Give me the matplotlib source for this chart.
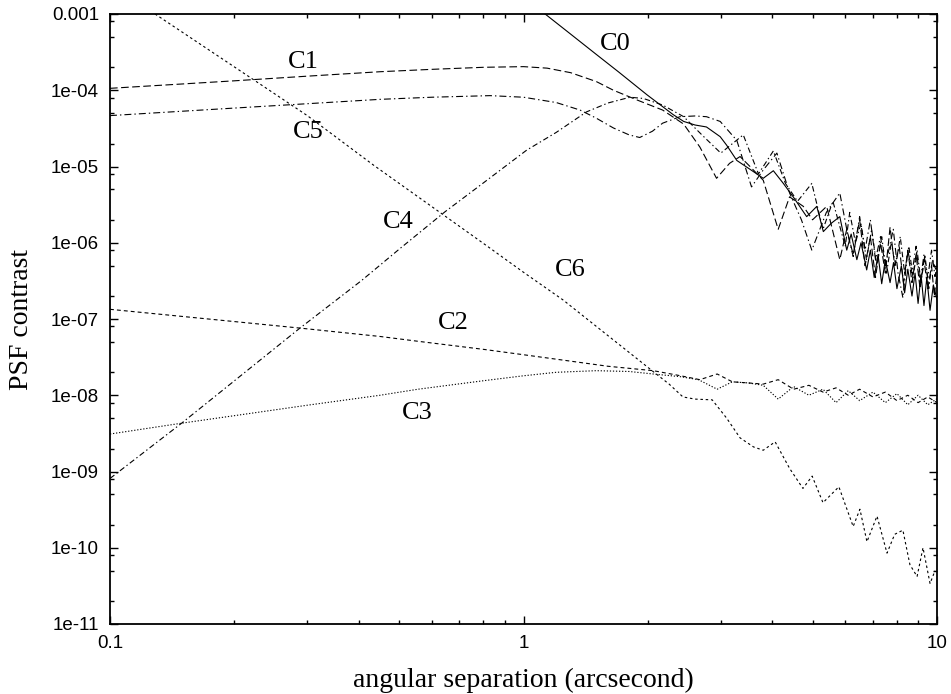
import matplotlib
matplotlib.use("Agg")
import matplotlib.pyplot as plt
from matplotlib.ticker import LogLocator, FixedLocator, FixedFormatter, NullFormatter

# data (log-log PSF contrast curves)
c0_x = [1.128, 1.3, 1.5, 1.7, 1.99, 2.17, 2.3, 2.44, 2.6, 2.77, 2.99, 3.1, 3.28, 3.55, 3.80,
        4.02, 4.25, 4.49, 4.84, 5.12, 5.31, 5.55, 5.82, 6.05, 6.2, 6.4, 6.55, 6.76, 6.9,
        7.05, 7.2, 7.35, 7.5, 7.7, 7.85, 8.0, 8.2, 8.35, 8.5, 8.7, 8.85, 9.0, 9.15, 9.3,
        9.45, 9.62, 9.8, 10.0]
c0_y = [1e-3, 5.45e-4, 2.95e-4, 1.73e-4, 8.7e-5, 6.1e-5, 4.8e-5, 3.9e-5, 3.5e-5, 3.3e-5,
        2.46e-5, 1.9e-5, 1.2e-5, 9e-6, 7.0e-6, 8.8e-6, 6e-6, 4.0e-6, 2.2e-6, 3.0e-6, 1.4e-6,
        1.8e-6, 2.2e-6, 8e-7, 1.3e-6, 6e-7, 1.0e-6, 4.4e-7, 8e-7, 3.5e-7, 7e-7, 2.9e-7,
        6e-7, 3e-7, 5.5e-7, 2.5e-7, 5e-7, 2.2e-7, 4.5e-7, 2e-7, 4e-7, 1.6e-7, 3.8e-7, 1.5e-7,
        3.5e-7, 1.3e-7, 2.8e-7, 1.8e-7]

c1_x = [0.1, 0.15, 0.2, 0.3, 0.45, 0.6, 0.8, 1.0, 1.14, 1.3, 1.5, 1.65, 1.9, 2.17, 2.44,
        2.67, 2.93, 3.15, 3.34, 3.53, 3.80, 4.13, 4.40, 4.75, 5.0, 5.41, 5.82, 6.05, 6.27,
        6.5, 6.7, 6.9, 7.1, 7.3, 7.5, 7.7, 7.9, 8.1, 8.3, 8.5, 8.7, 8.9, 9.1, 9.3, 9.5,
        9.7, 9.85, 10.0]
c1_y = [1.06e-4, 1.21e-4, 1.33e-4, 1.53e-4, 1.75e-4, 1.88e-4, 2.0e-4, 2.04e-4, 1.95e-4,
        1.7e-4, 1.3e-4, 1.0e-4, 7.3e-5, 5.5e-5, 3.6e-5, 1.8e-5, 7.0e-6, 1.1e-5, 1.35e-5,
        1.0e-5, 6.6e-6, 1.5e-6, 4.0e-6, 3.0e-6, 2.0e-6, 3.0e-6, 6e-7, 1.5e-6, 7e-7, 2.0e-6,
        5e-7, 1.2e-6, 3.5e-7, 1.0e-6, 4e-7, 1.6e-6, 5e-7, 9e-7, 3e-7, 8e-7, 3e-7, 7e-7,
        2.5e-7, 6e-7, 2.5e-7, 5e-7, 2e-7, 4e-7]

c2_x = [0.1, 0.2, 0.288, 0.45, 0.556, 0.8, 1.0, 1.3, 1.6, 2.06, 2.4, 2.67, 2.94, 3.2, 3.5,
        3.8, 4.13, 4.5, 4.9, 5.3, 5.7, 6.1, 6.5, 7.0, 7.5, 8.0, 8.5, 9.0, 9.5, 10.0]
c2_y = [1.34e-7, 9.25e-8, 7.6e-8, 5.9e-8, 5.1e-8, 4.0e-8, 3.4e-8, 2.8e-8, 2.4e-8, 2.1e-8,
        1.8e-8, 1.6e-8, 1.9e-8, 1.5e-8, 1.45e-8, 1.4e-8, 1.6e-8, 1.2e-8, 1.35e-8, 1.1e-8,
        1.25e-8, 1.0e-8, 1.2e-8, 9.5e-9, 1.1e-8, 8.5e-9, 1.0e-8, 8e-9, 9.5e-9, 8e-9]

c3_x = [0.1, 0.149, 0.2, 0.3, 0.45, 0.556, 0.8, 1.0, 1.2, 1.5, 1.8, 2.06, 2.4, 2.65, 2.94,
        3.2, 3.5, 3.8, 4.13, 4.5, 4.9, 5.3, 5.7, 6.1, 6.5, 7.0, 7.5, 8.0, 8.5, 9.0, 9.5, 10.0]
c3_y = [3.1e-9, 4.3e-9, 5.4e-9, 7.4e-9, 1.0e-8, 1.2e-8, 1.55e-8, 1.8e-8, 2.0e-8, 2.1e-8,
        2.05e-8, 1.9e-8, 1.75e-8, 1.6e-8, 1.2e-8, 1.5e-8, 1.45e-8, 1.35e-8, 8.9e-9, 1.3e-8,
        1.0e-8, 1.2e-8, 8e-9, 1.15e-8, 8.5e-9, 1.1e-8, 8e-9, 1.05e-8, 7.5e-9, 1.0e-8,
        7.5e-9, 9e-9]

c4_x = [0.1, 0.149, 0.2, 0.288, 0.406, 0.5, 0.646, 0.8, 1.018, 1.2, 1.42, 1.6, 1.81, 1.95,
        2.17, 2.44, 2.7, 3.0, 3.4, 3.7, 4.02, 4.3, 4.6, 4.98, 5.3, 5.6, 6.0, 6.15, 6.35,
        6.55, 6.75, 6.95, 7.15, 7.35, 7.55, 7.75, 7.95, 8.15, 8.35, 8.55, 8.75, 8.95, 9.15,
        9.35, 9.55, 9.75, 10.0]
c4_y = [8.1e-10, 4.3e-9, 1.55e-8, 7.6e-8, 3.2e-7, 8.2e-7, 2.55e-6, 6.1e-6, 1.64e-5, 2.8e-5,
        5.2e-5, 6.8e-5, 8.1e-5, 7.8e-5, 6.4e-5, 4.5e-5, 2.6e-5, 1.5e-5, 2.6e-5, 8e-6,
        1.6e-5, 6e-6, 3.5e-6, 6e-6, 1.5e-6, 3.5e-6, 9e-7, 2.5e-6, 1.0e-6, 1.8e-6, 6e-7,
        1.5e-6, 5e-7, 1.2e-6, 4e-7, 1.0e-6, 5e-7, 1.2e-6, 4e-7, 9e-7, 3.5e-7, 8e-7, 3e-7,
        7e-7, 2.5e-7, 6e-7, 4e-7]

c5_x = [0.1, 0.2, 0.3, 0.45, 0.6, 0.83, 1.0, 1.2, 1.37, 1.5, 1.65, 1.8, 1.91, 2.05, 2.17,
        2.39, 2.6, 2.77, 2.99, 3.28, 3.56, 3.8, 4.1, 4.4, 4.7, 4.98, 5.4, 5.82, 6.05, 6.27,
        6.5, 6.7, 6.9, 7.1, 7.3, 7.5, 7.84, 8.05, 8.27, 8.5, 8.7, 8.9, 9.1, 9.3, 9.5, 9.7,
        9.89, 10.0]
c5_y = [4.65e-5, 5.84e-5, 6.66e-5, 7.6e-5, 8.1e-5, 8.5e-5, 8.1e-5, 6.9e-5, 5.5e-5, 4.3e-5,
        3.2e-5, 2.6e-5, 2.4e-5, 2.9e-5, 3.7e-5, 4.5e-5, 4.6e-5, 4.5e-5, 3.9e-5, 2.2e-5,
        5.4e-6, 9e-6, 1.5e-5, 4.5e-6, 2e-6, 8e-7, 2.5e-6, 4.5e-6, 1.5e-6, 6.6e-7, 2.2e-6,
        8e-7, 2.0e-6, 6e-7, 1.2e-6, 5e-7, 1.5e-6, 4e-7, 1.9e-7, 8e-7, 4e-7, 9e-7, 3e-7,
        7e-7, 3.5e-7, 8e-7, 3.6e-7, 5e-7]

c6_x = [0.1285, 0.22, 0.3, 0.433, 0.6, 0.8, 1.0, 1.246, 1.5, 1.8, 2.06, 2.25, 2.43, 2.6,
        2.86, 3.1, 3.34, 3.6, 3.80, 4.06, 4.4, 4.74, 4.99, 5.3, 5.79, 6.27, 6.51, 6.77,
        7.16, 7.57, 7.9, 8.27, 8.6, 8.95, 9.25, 9.62, 9.89]
c6_y = [1e-3, 1.43e-4, 4.65e-5, 1.05e-5, 2.98e-6, 9.8e-7, 4.1e-7, 1.78e-7, 8.0e-8, 3.65e-8,
        2.04e-8, 1.4e-8, 9.5e-9, 8.9e-9, 8.7e-9, 5e-9, 2.76e-9, 2.1e-9, 1.9e-9, 2.45e-9,
        1.1e-9, 6.0e-10, 8.7e-10, 3.9e-10, 6.3e-10, 1.9e-10, 3.2e-10, 1.2e-10, 2.6e-10,
        8.5e-11, 1.5e-10, 1.7e-10, 6e-11, 4.2e-11, 1.0e-10, 3.4e-11, 5e-11]

curve_names = ["C0", "C1", "C2", "C3", "C4", "C5", "C6"]
label_x = [1.664, 0.293, 0.677, 0.552, 0.498, 0.301, 1.30]
label_y = [4.1e-4, 2.37e-4, 8.8e-8, 5.8e-9, 1.89e-6, 2.86e-5, 4.4e-7]

x_ticks = [0.1, 1, 10]
x_tick_labels = ["0.1", "1", "10"]
y_ticks = [1e-11, 1e-10, 1e-9, 1e-8, 1e-7, 1e-6, 1e-5, 1e-4, 1e-3]
y_tick_labels = ["1e-11", "1e-10", "1e-09", "1e-08", "1e-07", "1e-06", "1e-05", "1e-04", "0.001"]

plt.rcParams["font.family"] = ["Liberation Sans", "DejaVu Sans"]
plt.rcParams["lines.scale_dashes"] = False

fig = plt.figure(figsize=(9.51, 6.94), dpi=100)
ax = fig.add_axes([110 / 951, 70 / 694, 827 / 951, 610 / 694])

lw = 0.8
ax.plot(c0_x, c0_y, color="black", lw=lw, ls="-")
ax.plot(c1_x, c1_y, color="black", lw=lw, dashes=(5.5, 2.5))
ax.plot(c2_x, c2_y, color="black", lw=lw, dashes=(2.8, 2.2))
ax.plot(c3_x, c3_y, color="black", lw=lw, dashes=(0.9, 1.3))
ax.plot(c4_x, c4_y, color="black", lw=lw, dashes=(4, 2, 1, 2))
ax.plot(c5_x, c5_y, color="black", lw=lw, dashes=(5, 2.2, 1, 2.2))
ax.plot(c6_x, c6_y, color="black", lw=lw, dashes=(1.8, 2.0))

for name, lx, ly in zip(curve_names, label_x, label_y):
    ax.text(lx, ly, name, family="Liberation Serif", fontsize=19, ha="center", va="center")

ax.set_xscale("log")
ax.set_yscale("log")
ax.set_xlim(0.1, 10)
ax.set_ylim(1e-11, 1e-3)

ax.xaxis.set_major_locator(FixedLocator(x_ticks))
ax.xaxis.set_major_formatter(FixedFormatter(x_tick_labels))
ax.xaxis.set_minor_locator(LogLocator(base=10, subs=[2, 3, 4, 5, 6, 7, 8, 9]))
ax.xaxis.set_minor_formatter(NullFormatter())
ax.yaxis.set_major_locator(FixedLocator(y_ticks))
ax.yaxis.set_major_formatter(FixedFormatter(y_tick_labels))
ax.yaxis.set_minor_locator(LogLocator(base=10, subs=[2, 5, 8], numticks=20))
ax.yaxis.set_minor_formatter(NullFormatter())

ax.tick_params(which="both", direction="in", top=True, right=True, width=1.0, colors="black")
ax.tick_params(which="major", length=6)
ax.tick_params(which="minor", length=3)
ax.tick_params(axis="x", which="major", labelsize=13.5, pad=8)
ax.tick_params(axis="y", which="major", labelsize=13.5, pad=8)
for sp in ax.spines.values():
    sp.set_linewidth(1.3)

ax.set_xlabel("angular separation (arcsecond)", family="Liberation Serif", fontsize=20, labelpad=11)
ax.set_ylabel("PSF contrast", family="Liberation Serif", fontsize=20, labelpad=12)

fig.savefig("out.png", dpi=100)
